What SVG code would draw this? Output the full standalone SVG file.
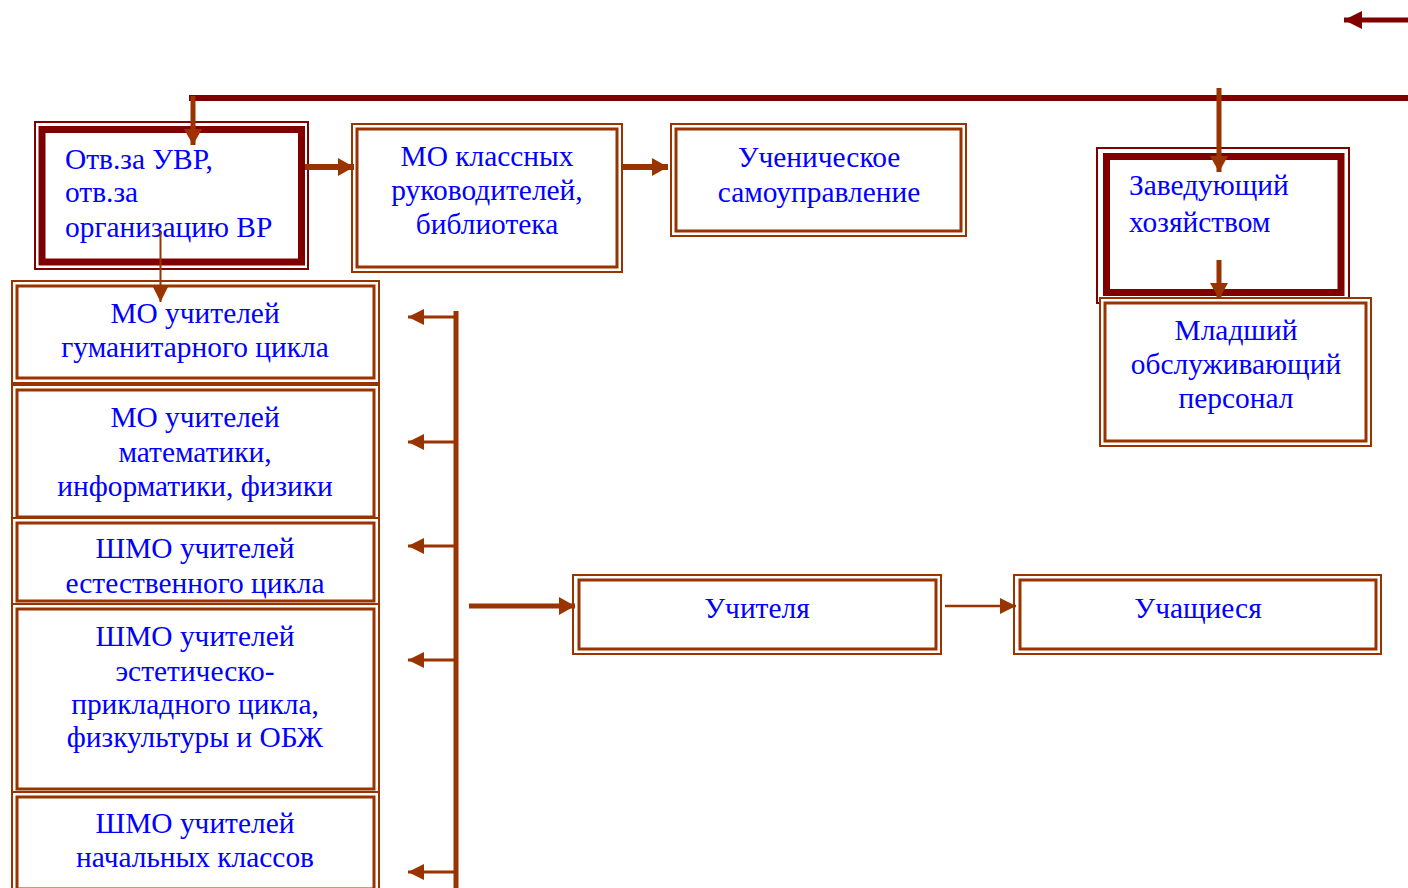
<svg xmlns="http://www.w3.org/2000/svg" width="1408" height="888" viewBox="0 0 1408 888">
<style>
.o{fill:#fff;stroke:#993300;stroke-width:2}
.i{fill:none;stroke:#993300;stroke-width:3}
.mo{fill:#fff;stroke:#800000;stroke-width:2}
.mi{fill:none;stroke:#800000;stroke-width:7}
.t{font-family:"Liberation Serif","Times New Roman",serif;font-size:29.4px;fill:#0000ff;text-anchor:middle}
.tl{text-anchor:start}
.a{fill:none;stroke:#993300}
.m{fill:none;stroke:#800000}
</style>
<defs>
<marker id="hb" markerUnits="userSpaceOnUse" viewBox="0 0 16 18" refX="16" refY="9" markerWidth="16" markerHeight="18" orient="auto"><path d="M0,0 L16,9 L0,18 z" fill="#993300"/></marker>
<marker id="hs" markerUnits="userSpaceOnUse" viewBox="0 0 16 16" refX="16" refY="8" markerWidth="16" markerHeight="16" orient="auto"><path d="M0,0 L16,8 L0,16 z" fill="#993300"/></marker>
<marker id="hm" markerUnits="userSpaceOnUse" viewBox="0 0 18 18" refX="18" refY="9" markerWidth="18" markerHeight="18" orient="auto"><path d="M0,0 L18,9 L0,18 z" fill="#800000"/></marker>
</defs>
<rect width="1408" height="888" fill="#fff"/>

<g id="n-uvr">
<rect class="mo" x="35" y="122" width="273" height="147"/>
<rect class="mi" x="42" y="129.5" width="259.5" height="132.5"/>
<text class="t tl" x="65" y="169">Отв.за УВР,</text>
<text class="t tl" x="65" y="202">отв.за</text>
<text class="t tl" x="65" y="237">организацию ВР</text>
</g>

<g id="n-mo-class">
<rect class="o" x="352" y="124" width="270" height="148"/>
<rect class="i" x="357" y="129" width="260" height="138"/>
<text class="t" x="487" y="166">МО классных</text>
<text class="t" x="487" y="200">руководителей,</text>
<text class="t" x="487" y="234">библиотека</text>
</g>

<g id="n-self">
<rect class="o" x="671" y="124" width="295" height="112"/>
<rect class="i" x="676" y="129" width="285" height="102"/>
<text class="t" x="819" y="167">Ученическое</text>
<text class="t" x="819" y="202">самоуправление</text>
</g>

<g id="n-zav">
<rect class="mo" x="1097" y="148" width="252" height="155"/>
<rect class="mi" x="1106.5" y="156.5" width="234.5" height="136"/>
<text class="t tl" x="1129" y="195">Заведующий</text>
<text class="t tl" x="1129" y="232">хозяйством</text>
</g>

<g id="n-staff">
<rect class="o" x="1100" y="298" width="271" height="148"/>
<rect class="i" x="1105" y="303" width="261" height="138"/>
<text class="t" x="1236" y="340">Младший</text>
<text class="t" x="1236" y="374">обслуживающий</text>
<text class="t" x="1236" y="408">персонал</text>
</g>

<g id="n-hum">
<rect class="o" x="12" y="281" width="367" height="102"/>
<rect class="i" x="17" y="286" width="357" height="92"/>
<text class="t" x="195" y="323">МО учителей</text>
<text class="t" x="195" y="357">гуманитарного цикла</text>
</g>

<g id="n-math">
<rect class="o" x="12" y="385" width="367" height="134"/>
<rect class="i" x="17" y="390" width="357" height="127"/>
<text class="t" x="195" y="427">МО учителей</text>
<text class="t" x="195" y="462">математики,</text>
<text class="t" x="195" y="496">информатики, физики</text>
</g>

<g id="n-nat">
<rect class="o" x="12" y="518" width="367" height="86"/>
<rect class="i" x="17" y="523" width="357" height="78"/>
<text class="t" x="195" y="558">ШМО учителей</text>
<text class="t" x="195" y="593">естественного цикла</text>
</g>

<g id="n-est">
<rect class="o" x="12" y="604" width="367" height="188"/>
<rect class="i" x="17" y="609" width="357" height="180"/>
<text class="t" x="195" y="646">ШМО учителей</text>
<text class="t" x="195" y="681">эстетическо-</text>
<text class="t" x="195" y="714">прикладного цикла,</text>
<text class="t" x="195" y="747">физкультуры и ОБЖ</text>
</g>

<g id="n-prim">
<rect class="o" x="12" y="792" width="367" height="100"/>
<rect class="i" x="17" y="797" width="357" height="92"/>
<text class="t" x="195" y="833">ШМО учителей</text>
<text class="t" x="195" y="867">начальных классов</text>
</g>

<g id="n-teach">
<rect class="o" x="573" y="575" width="368" height="79"/>
<rect class="i" x="579" y="580" width="357" height="69"/>
<text class="t" x="757" y="618">Учителя</text>
</g>

<g id="n-stud">
<rect class="o" x="1014" y="575" width="367" height="79"/>
<rect class="i" x="1020" y="580" width="356" height="69"/>
<text class="t" x="1198" y="618">Учащиеся</text>
</g>

<g id="connectors">
<line class="m" x1="1408" y1="20" x2="1344" y2="20" stroke-width="5" marker-end="url(#hm)"/>
<line class="m" x1="189" y1="98" x2="1408" y2="98" stroke-width="6"/>
<line class="a" x1="193" y1="96" x2="193" y2="145" stroke-width="5" marker-end="url(#hb)"/>
<line class="a" x1="1219" y1="88" x2="1219" y2="172" stroke-width="5" marker-end="url(#hb)"/>
<line class="a" x1="1219" y1="260" x2="1219" y2="299" stroke-width="5" marker-end="url(#hb)"/>
<line class="a" x1="305" y1="167" x2="354" y2="167" stroke-width="6" marker-end="url(#hb)"/>
<line class="a" x1="622" y1="167" x2="668" y2="167" stroke-width="6" marker-end="url(#hb)"/>
<line class="a" x1="160.5" y1="232" x2="160.5" y2="302" stroke-width="2" marker-end="url(#hs)"/>
<line class="a" x1="456" y1="311" x2="456" y2="888" stroke-width="5"/>
<line class="a" x1="456" y1="317" x2="408" y2="317" stroke-width="3" marker-end="url(#hs)"/>
<line class="a" x1="456" y1="442" x2="408" y2="442" stroke-width="3" marker-end="url(#hs)"/>
<line class="a" x1="456" y1="546" x2="408" y2="546" stroke-width="3" marker-end="url(#hs)"/>
<line class="a" x1="456" y1="660" x2="408" y2="660" stroke-width="3" marker-end="url(#hs)"/>
<line class="a" x1="456" y1="872" x2="408" y2="872" stroke-width="3" marker-end="url(#hs)"/>
<line class="a" x1="469" y1="606" x2="575" y2="606" stroke-width="5" marker-end="url(#hb)"/>
<line class="a" x1="945" y1="606" x2="1016" y2="606" stroke-width="2.5" marker-end="url(#hs)"/>
</g>
</svg>
